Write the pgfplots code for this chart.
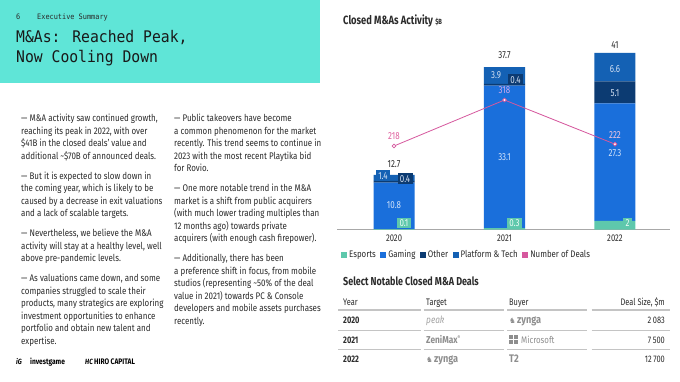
\documentclass[border=0pt]{standalone}
\usepackage{pgfplots}
\pgfplotsset{compat=1.18}
\usepackage{fontspec}
\setmainfont[FakeStretch=0.83]{Fira Sans}
\newfontfamily\condf[FakeStretch=0.78]{Fira Sans}
\newfontfamily\monof[FakeStretch=0.92]{DejaVu Sans Mono}
\newfontfamily\dejavu{DejaVu Sans}
\definecolor{hdrteal}{HTML}{5FE5D7}
\definecolor{esp}{HTML}{5EC8AC}
\definecolor{gam}{HTML}{1A6FDB}
\definecolor{oth}{HTML}{0C3B72}
\definecolor{plat}{HTML}{1461B4}
\definecolor{pinkc}{HTML}{D6589E}
\definecolor{txt}{HTML}{2B2B2B}
\definecolor{linec}{HTML}{C4C4C4}
\definecolor{axisg}{HTML}{A8A8A8}
\definecolor{logog}{HTML}{8E8E8E}
\definecolor{gamlab}{HTML}{D2E3FA}
\definecolor{platlab}{HTML}{D3E0F2}
\definecolor{esplab}{HTML}{EFFCF7}
\definecolor{lab318}{HTML}{CFA8EC}
\definecolor{lab222}{HTML}{F4C6E0}
\definecolor{lab218}{HTML}{E0629F}
\tikzset{
  vl/.style={font=\condf\fontsize{10.2}{11}\selectfont, inner sep=0pt},
  bx/.style={font=\condf\fontsize{10.2}{11}\selectfont, inner xsep=2.4pt, inner ysep=2pt, text height=6.8pt, text depth=0pt},
  tb/.style={anchor=base west, inner sep=0pt, font=\condf\fontsize{9.5}{11}\selectfont, text=txt},
}
\pgfplotsset{
  sq legend/.style={legend image code/.code={\fill[##1] (0pt,-3pt) rectangle (6pt,3pt);}},
  samebox/.style={at={(337pt,-229.5pt)}, anchor=south west, scale only axis,
    width=333pt, height=189.5pt, xmin=-0.516, xmax=2.498, clip=false},
}
\begin{document}
\begin{tikzpicture}
\useasboundingbox (0pt,0pt) rectangle (680pt,-382pt);
\fill[white] (0pt,0pt) rectangle (680pt,-382pt);
\begin{scope}[x=1pt,y=-1pt]
\fill[hdrteal] (0,0) rectangle (320,83);
\node[anchor=base west, inner sep=0, font=\monof\fontsize{7.5}{9}\selectfont, text=txt] at (16,19.5) {6};
\node[anchor=base west, inner sep=0, font=\monof\fontsize{7.5}{9}\selectfont, text=txt] at (37,19.5) {Executive Summary};
\node[anchor=base west, inner sep=0, font=\monof\fontsize{16}{20}\selectfont, text=black!90] at (16,42.5) {M\&As: Reached Peak,};
\node[anchor=base west, inner sep=0, font=\monof\fontsize{16}{20}\selectfont, text=black!90] at (16,63) {Now Cooling Down};
% text columns
\node[anchor=north west, inner sep=0, align=left, font=\fontsize{9.6}{12.5}\selectfont, text=txt] at (21,113.5) {\rule{0pt}{8pt}— M\&A activity saw continued growth,\\
reaching its peak in 2022, with over\\
\$41B in the closed deals’ value and\\
additional \textasciitilde\$70B of announced deals.\\[7.5pt]
— But it is expected to slow down in\\
the coming year, which is likely to be\\
caused by a decrease in exit valuations\\
and a lack of scalable targets.\\[7.5pt]
— Nevertheless, we believe the M\&A\\
activity will stay at a healthy level, well\\
above pre-pandemic levels.\\[7.5pt]
— As valuations came down, and some\\
companies struggled to scale their\\
products, many strategics are exploring\\
investment opportunities to enhance\\
portfolio and obtain new talent and\\
expertise.};
\node[anchor=north west, inner sep=0, align=left, font=\fontsize{9.6}{12.5}\selectfont, text=txt] at (174,113.5) {\rule{0pt}{8pt}— Public takeovers have become\\
a common phenomenon for the market\\
recently. This trend seems to continue in\\
2023 with the most recent Playtika bid\\
for Rovio.\\[7.5pt]
— One more notable trend in the M\&A\\
market is a shift from public acquirers\\
(with much lower trading multiples than\\
12 months ago) towards private\\
acquirers (with enough cash firepower).\\[7.5pt]
— Additionally, there has been\\
a preference shift in focus, from mobile\\
studios (representing \textasciitilde50\% of the deal\\
value in 2021) towards PC \& Console\\
developers and mobile assets purchases\\
recently.};
% footer
\node[anchor=base west, inner sep=0, font=\bfseries\itshape\fontsize{7.5}{8}\selectfont] at (16,364.5) {iG};
\node[anchor=base west, inner sep=0, font=\bfseries\fontsize{8}{9}\selectfont] at (30,364.5) {investgame};
\node[anchor=base west, inner sep=0, font=\bfseries\itshape\fontsize{7.5}{8}\selectfont] at (85,364.5) {HC};
\node[anchor=base west, inner sep=0, font=\bfseries\fontsize{8}{9}\selectfont] at (94,364.5) {HIRO CAPITAL};
% chart title
\node[anchor=base west, inner sep=0, font=\condf\bfseries\fontsize{12}{13}\selectfont, text=txt] at (343,24.5) {Closed M\&As Activity {\fontsize{7.5}{8}\selectfont\$B}};
% table
\node[anchor=base west, inner sep=0, font=\condf\bfseries\fontsize{11.5}{12}\selectfont, text=txt] at (343,285) {Select Notable Closed M\&A Deals};
\node[tb] at (343,305) {Year};
\node[tb] at (426,305) {Target};
\node[tb] at (509,305) {Buyer};
\node[tb, anchor=base east] at (665,305) {Deal Size, \$m};
\foreach \yy/\ww in {310/1.3, 330/1.0, 349.5/1.0}{
  \draw[linec, line width=\ww pt] (338,\yy) -- (420.5,\yy);
  \draw[linec, line width=\ww pt] (423.5,\yy) -- (503.5,\yy);
  \draw[linec, line width=\ww pt] (507,\yy) -- (587,\yy);
  \draw[linec, line width=\ww pt] (591.5,\yy) -- (670,\yy);
}
\node[tb, font=\condf\bfseries\fontsize{9.5}{11}\selectfont] at (343,323.5) {2020};
\node[tb, font=\condf\bfseries\fontsize{9.5}{11}\selectfont] at (343,343.5) {2021};
\node[tb, font=\condf\bfseries\fontsize{9.5}{11}\selectfont] at (343,362.5) {2022};
\node[tb, anchor=base east] at (665,323.5) {2\,083};
\node[tb, anchor=base east] at (665,343.5) {7\,500};
\node[tb, anchor=base east] at (665,362.5) {12\,700};
% logos
\node[anchor=base west, inner sep=0, font=\itshape\fontsize{10}{11}\selectfont, text=logog!80] at (426,323.5) {peak};
\node[anchor=base west, inner sep=0, font=\dejavu\fontsize{7.5}{8}\selectfont, text=logog] at (509,323.5) {♞};
\node[anchor=base west, inner sep=0, font=\bfseries\fontsize{11}{12}\selectfont, text=logog] at (517,323.5) {zynga};
\node[anchor=base west, inner sep=0, font=\bfseries\fontsize{10}{11}\selectfont, text=logog] at (426,343.5) {ZeniMax\textsuperscript{\tiny ®}};
\fill[logog] (509,335.3) rectangle (513,339.1);
\fill[logog] (513.8,335.3) rectangle (517.8,339.1);
\fill[logog] (509,339.9) rectangle (513,343.7);
\fill[logog] (513.8,339.9) rectangle (517.8,343.7);
\node[anchor=base west, inner sep=0, font=\fontsize{9.5}{11}\selectfont, text=logog] at (521,343.5) {Microsoft};
\node[anchor=base west, inner sep=0, font=\dejavu\fontsize{7.5}{8}\selectfont, text=logog] at (426,362.5) {♞};
\node[anchor=base west, inner sep=0, font=\bfseries\fontsize{11}{12}\selectfont, text=logog] at (434,362.5) {zynga};
\node[anchor=base west, inner sep=0, font=\bfseries\fontsize{11}{12}\selectfont, text=logog] at (509,362.5) {T2};
\end{scope}
% bars
\begin{axis}[
  samebox, ymin=0, ymax=44,
  ybar stacked, bar width=41pt,
  axis x line*=bottom, axis y line=none,
  x axis line style={draw=axisg, line width=0.9pt, -},
  xtick={0,1,2}, xticklabels={2020,2021,2022},
  major tick length=0pt,
  xticklabel style={font=\condf\fontsize{9.8}{10}\selectfont, text=txt, yshift=-1.5pt},
  /pgf/number format/assume math mode=true,
  legend columns=-1,
  legend cell align=left,
  legend style={at={(axis description cs:0.012,-0.1346)}, anchor=west, draw=none, fill=none, inner sep=0pt,
    font=\fontsize{9.5}{10}\selectfont, text=txt,
    /tikz/every even column/.append style={column sep=2.5pt},
    nodes={inner xsep=2pt, inner ysep=0pt}},
]
\addplot[fill=esp, draw=none, sq legend] coordinates {(0,0.1) (1,0.3) (2,2)};
\addlegendentry{Esports}
\addplot[fill=gam, draw=none, sq legend] coordinates {(0,10.8) (1,33.1) (2,27.3)};
\addlegendentry{Gaming}
\addplot[fill=oth, draw=none, sq legend] coordinates {(0,0.4) (1,0.4) (2,5.1)};
\addlegendentry{Other}
\addplot[fill=plat, draw=none, sq legend] coordinates {(0,1.4) (1,3.9) (2,6.6)};
\addlegendentry{Platform \& Tech}
\addlegendimage{fill=pinkc, draw=none, sq legend}
\addlegendentry{Number of Deals}
\end{axis}
% bar value labels
\begin{axis}[samebox, ymin=0, ymax=44, axis lines=none]
\addplot[draw=none, mark=none, forget plot] coordinates {(0,0) (2,0)};
% 2020
\node[vl, text=txt] at (axis cs:0,15.3) {12.7};
\node[bx, fill=plat, text=platlab] at (axis cs:-0.1,12.5) {1.4};
\node[bx, fill=oth, text=platlab] at (axis cs:0.1,11.8) {0.4};
\node[vl, text=gamlab] at (axis cs:0,5.7) {10.8};
\node[bx, fill=esp, text=esplab] at (axis cs:0.09,1.5) {0.1};
% 2021
\node[vl, text=txt] at (axis cs:1,40.6) {37.7};
\node[vl, text=platlab] at (axis cs:0.923,35.9) {3.9};
\node[bx, fill=oth, text=platlab] at (axis cs:1.1,34.8) {0.4};
\node[vl, text=gamlab] at (axis cs:1,16.9) {33.1};
\node[bx, fill=esp, text=esplab] at (axis cs:1.09,1.5) {0.3};
% 2022
\node[vl, text=txt] at (axis cs:2,42.9) {41};
\node[vl, text=platlab] at (axis cs:2,37.3) {6.6};
\node[vl, text=platlab] at (axis cs:2,31.7) {5.1};
\node[vl, text=gamlab] at (axis cs:2,17.8) {27.3};
\node[bx, fill=esp, text=esplab] at (axis cs:2.115,1.4) {2};
\end{axis}
% number of deals
\begin{axis}[samebox, ymin=36.5, ymax=448.4, axis lines=none]
\addplot[pinkc, line width=0.8pt, mark=*, mark size=1.9pt, mark options={fill=white, draw=pinkc, line width=0.8pt}] coordinates {(0,218) (1,318) (2,222)};
\node[vl, text=lab218, anchor=base, yshift=6pt] at (axis cs:0,218) {218};
\node[vl, text=lab318, anchor=base, yshift=6pt] at (axis cs:1,318) {318};
\node[vl, text=lab222, anchor=base, yshift=6pt] at (axis cs:2,222) {222};
\end{axis}
\end{tikzpicture}
\end{document}
